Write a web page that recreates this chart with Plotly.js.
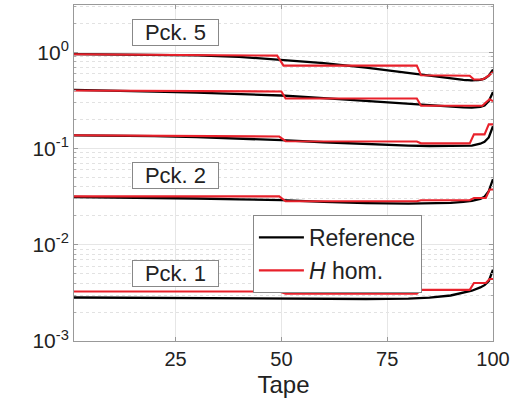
<!DOCTYPE html>
<html>
<head>
<meta charset="utf-8">
<script src="https://cdn.plot.ly/plotly-3.0.1.min.js"></script>
<style>html,body{margin:0;padding:0;background:#fff;}#chart{width:527px;height:404px;}</style>
</head>
<body>
<div id="chart"></div>
<script>
// Black reference curves (shared x sampling)
const xRef = [1,10,20,30,40,50,60,70,80,85,90,93,95,97,98,99,100];
const refP5 = [0.955,0.95,0.94,0.925,0.895,0.835,0.77,0.69,0.61,0.565,0.53,0.515,0.51,0.515,0.53,0.57,0.66];
const refP4 = [0.405,0.40,0.39,0.38,0.37,0.355,0.333,0.31,0.29,0.28,0.27,0.267,0.266,0.27,0.28,0.31,0.385];
const refP3 = [0.137,0.136,0.134,0.131,0.127,0.122,0.116,0.111,0.107,0.106,0.106,0.106,0.107,0.112,0.117,0.13,0.17];
const refP2 = [0.0313,0.0311,0.0307,0.0302,0.0296,0.029,0.0278,0.027,0.0267,0.0268,0.0272,0.0278,0.0285,0.030,0.0315,0.036,0.048];
const refP1 = [0.00283,0.00282,0.0028,0.00278,0.00276,0.00274,0.00273,0.00273,0.00276,0.00282,0.00297,0.00315,0.00333,0.0036,0.0038,0.0042,0.0055];

// Red H hom. step curves
const xHomP5 = [1,49,50.5,82,83,94.5,95.5,97.5,98.5,99.5,100];
const homP5  = [0.95,0.92,0.725,0.725,0.575,0.57,0.52,0.52,0.55,0.6,0.62];
const xHomP4 = [1,50,51,82,83,97.5,98.3,99.2,100];
const homP4  = [0.40,0.39,0.33,0.33,0.278,0.278,0.30,0.324,0.31];
const xHomP3 = [1,49.5,51,82,83,94.5,95.5,98,99,100];
const homP3  = [0.137,0.133,0.119,0.118,0.113,0.113,0.14,0.14,0.178,0.178];
const xHomP2 = [1,49.5,51,82,83,94.5,95.5,98.3,99.2,100];
const homP2  = [0.0318,0.0318,0.0283,0.0283,0.029,0.029,0.0306,0.0306,0.0374,0.0374];
const xHomP1 = [1,49.5,51,82,83,94.5,95.5,98.3,99.2,100];
const homP1  = [0.00327,0.00327,0.0031,0.0031,0.0034,0.0034,0.004,0.004,0.0044,0.0044];

const packetLabels = ['Pck. 5','Pck. 2','Pck. 1'];
const packetLabelX = [25,25,25];
const packetLabelLogY = [0.208,-1.278,-2.295];

const yTickVals = [0.001,0.01,0.1,1];
const yTickText = ['10<sup>-3</sup>','10<sup>-2</sup>','10<sup>-1</sup>','10<sup>0</sup>'];
const xTickVals = [25,50,75,100];

const minorVals = [];
for (let e = -3; e <= 0; e++) for (let m = 2; m <= 9; m++) minorVals.push(m * Math.pow(10, e));

const BLACK = '#000000', RED = '#e8212b';
const refs = [refP5, refP4, refP3, refP2, refP1];
const homs = [[xHomP5,homP5],[xHomP4,homP4],[xHomP3,homP3],[xHomP2,homP2],[xHomP1,homP1]];
const traces = [];
refs.forEach((r,i) => traces.push({x:xRef, y:r, mode:'lines', line:{color:BLACK,width:2.3},
  name:'Reference', legendgroup:'ref', showlegend:i===0}));
homs.forEach((h,i) => traces.push({x:h[0], y:h[1], mode:'lines', line:{color:RED,width:2.1},
  name:'<i>H</i> hom.', legendgroup:'hom', showlegend:i===0}));

const font = {family:'Liberation Sans, Arial, sans-serif', color:'#222'};
const layout = {
  width:527, height:404,
  margin:{l:74, r:34, t:5, b:63},
  paper_bgcolor:'#fff', plot_bgcolor:'#fff',
  font:font,
  showlegend:true,
  legend:{x:0.427, y:0.375, xanchor:'left', yanchor:'top', bgcolor:'#fff',
    bordercolor:'#888', borderwidth:1, font:{size:23, family:font.family, color:'#222'},
    tracegroupgap:0, itemwidth:45},
  xaxis:{range:[1,100], tickmode:'array', tickvals:xTickVals, ticks:'inside', ticklen:4,
    tickcolor:'#999', showline:true, linecolor:'#999', linewidth:1, mirror:'ticks',
    showgrid:true, gridcolor:'#e6e6e6', zeroline:false,
    tickfont:{size:20, family:font.family, color:'#222'},
    title:{text:'Tape', font:{size:24, family:font.family, color:'#222'}, standoff:7}},
  yaxis:{type:'log', range:[-3,0.49], tickmode:'array', tickvals:yTickVals, ticktext:yTickText,
    ticks:'inside', ticklen:4, tickcolor:'#999', showline:true, linecolor:'#999', linewidth:1,
    mirror:'ticks', showgrid:true, gridcolor:'#e6e6e6', zeroline:false,
    tickfont:{size:21, family:font.family, color:'#222'},
    minor:{tickmode:'array', tickvals:minorVals, showgrid:true, gridcolor:'#e2e2e2',
      griddash:'dot', ticks:'inside', ticklen:2, tickcolor:'#aaa'}},
  annotations: packetLabels.map((t,i) => ({text:t, x:packetLabelX[i], y:packetLabelLogY[i],
    xref:'x', yref:'y', showarrow:false, bgcolor:'#fff', bordercolor:'#888', borderwidth:1,
    borderpad:1, width:83, height:23, font:{size:22, family:font.family, color:'#222'}}))
};
Plotly.newPlot('chart', traces, layout, {staticPlot:true, displayModeBar:false});
</script>
</body>
</html>
